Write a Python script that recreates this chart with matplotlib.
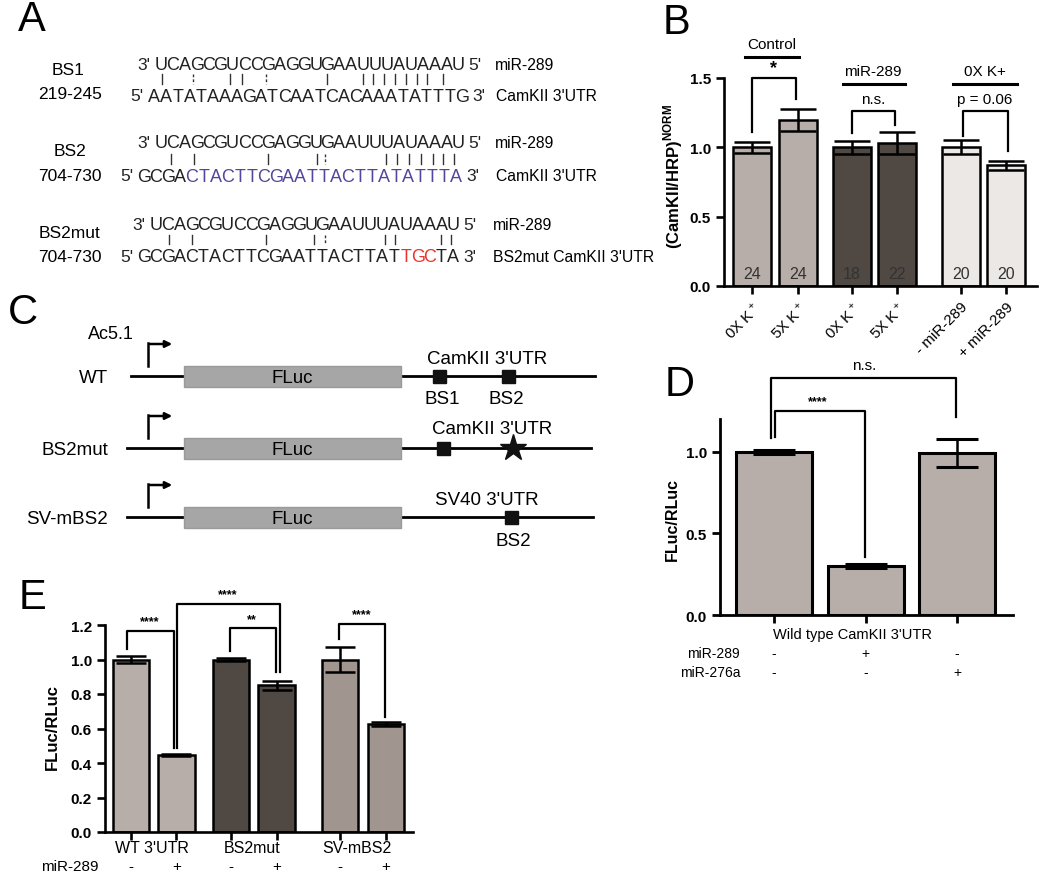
import matplotlib
matplotlib.use("Agg")
import matplotlib.pyplot as plt
from matplotlib.patches import Rectangle
import numpy as np

plt.rcParams['font.family'] = ['Liberation Sans', 'DejaVu Sans']
plt.rcParams['mathtext.fontset'] = 'custom'
plt.rcParams['mathtext.rm'] = 'Liberation Sans'
plt.rcParams['mathtext.bf'] = 'Liberation Sans:bold'

# ---- data ----
mir289 = "UCAGCGUCCGAGGUGAAUUUAUAAAU"
bs1_utr = "AATATAAAGATCAATCACAAATATTTG"
bs2_utr = "GCGACTACTTCGAATTACTTATATTTA"
bs2mut_utr = "GCGACTACTTCGAATTACTTATTGCTA"

b_labels = ["0X K$^+$", "5X K$^+$", "0X K$^+$", "5X K$^+$", "- miR-289", "+ miR-289"]
b_means = [1.0, 1.2, 1.0, 1.03, 1.0, 0.87]
b_sem = [0.04, 0.08, 0.045, 0.08, 0.05, 0.035]
b_n = [24, 24, 18, 22, 20, 20]
b_groups = ["Control", "miR-289", "0X K+"]

d_means = [1.0, 0.30, 0.99]
d_sem = [0.012, 0.01, 0.085]
d_mir289 = ["-", "+", "-"]
d_mir276a = ["-", "-", "+"]

e_groups = ["WT 3'UTR", "BS2mut", "SV-mBS2"]
e_means = [1.0, 0.445, 1.0, 0.85, 1.0, 0.625]
e_sem = [0.02, 0.006, 0.006, 0.025, 0.075, 0.012]
e_mir = ["-", "+", "-", "+", "-", "+"]

ctrl_c = "#b7aeaa"
dark_c = "#4f4843"
light_c = "#ece8e5"
sv_c = "#a0968f"

W, H = 1050, 887
fig = plt.figure(figsize=(10.5, 8.87), dpi=100)


def px_axes(l, t, r, b):
    return fig.add_axes([l / W, 1 - b / H, (r - l) / W, (b - t) / H])


def bracket(ax, x1, x2, top, y1, y2, label, ly, lx=None, fs=11, weight='normal'):
    ax.plot([x1, x1, x2, x2], [y1, top, top, y2], color='k', lw=1.6, clip_on=False)
    if lx is None:
        lx = (x1 + x2) / 2
    ax.text(lx, ly, label, ha='center', va='center', fontsize=fs, fontweight=weight, clip_on=False)


def style_axes(ax, lw):
    for s in ['top', 'right']:
        ax.spines[s].set_visible(False)
    for s in ['left', 'bottom']:
        ax.spines[s].set_linewidth(lw)
    ax.tick_params(width=lw, length=6)
    ax.patch.set_alpha(0)


# ---- canvas for A and C ----
cv = fig.add_axes([0, 0, 1, 1])
cv.set_xlim(0, W)
cv.set_ylim(H, 0)
cv.axis('off')

for let, x, y in [("A", 32, 20), ("B", 677, 23), ("C", 23, 313), ("D", 680, 385), ("E", 33, 598)]:
    cv.text(x, y, let, fontsize=30, ha='center', va='center')


def seq_row(x0, y, left, seq, right, pitch=11.9, colors=None):
    cv.text(x0 - 5, y, left, ha='right', va='center_baseline', fontsize=12.5, color='#222')
    for i, ch in enumerate(seq):
        c = colors[i] if colors else '#222'
        cv.text(x0 + pitch * (i + 0.5), y, ch, ha='center', va='center_baseline', fontsize=13, color=c)
    cv.text(x0 + pitch * len(seq) + 4, y, right, ha='left', va='center_baseline', fontsize=12.5, color='#222')


def marks(xs, dashed, y1, y2):
    for x in xs:
        ls = (0, (2, 1.5)) if x in dashed else '-'
        cv.plot([x, x], [y1, y2], color='#333', lw=1, ls=ls)


# BS1
cv.text(68, 69, "BS1", ha='center', va='center_baseline', fontsize=12.5)
cv.text(70, 93, "219-245", ha='center', va='center_baseline', fontsize=12.5)
seq_row(155, 64, "3'", mir289, "5'")
seq_row(148, 95, "5'", bs1_utr, "3'", pitch=11.85)
marks([162, 193, 230, 242, 266, 327, 363, 373, 384, 395, 406, 417, 427, 443], [193, 266], 75, 85)
cv.text(495, 64, "miR-289", ha='left', va='center_baseline', fontsize=11.3)
cv.text(496, 95, "CamKII 3'UTR", ha='left', va='center_baseline', fontsize=11.3)

# BS2
purple = "#55459c"
cv.text(70, 150, "BS2", ha='center', va='center_baseline', fontsize=12.5)
cv.text(70, 175, "704-730", ha='center', va='center_baseline', fontsize=12.5)
seq_row(155, 142, "3'", mir289, "5'")
seq_row(138, 175, "5'", bs2_utr, "3'", pitch=12.0,
        colors=['#222'] * 4 + [purple] * (len(bs2_utr) - 4))
marks([171, 194, 268, 317, 325, 386, 397, 409, 421, 433, 443, 454], [325], 155, 165)
cv.text(495, 142, "miR-289", ha='left', va='center_baseline', fontsize=11.3)
cv.text(496, 175, "CamKII 3'UTR", ha='left', va='center_baseline', fontsize=11.3)

# BS2mut
cv.text(69, 232, "BS2mut", ha='center', va='center_baseline', fontsize=12.5)
cv.text(70, 256, "704-730", ha='center', va='center_baseline', fontsize=12.5)
seq_row(150, 224, "3'", mir289, "5'")
seq_row(138, 256, "5'", bs2mut_utr, "3'", pitch=11.9,
        colors=['#222'] * 22 + ['#e8352d'] * 3 + ['#222'] * 2)
marks([169, 192, 266, 314, 325, 385, 395, 441, 451], [325], 236, 245)
cv.text(493, 224, "miR-289", ha='left', va='center_baseline', fontsize=11.3)
cv.text(493, 256, "BS2mut CamKII 3'UTR", ha='left', va='center_baseline', fontsize=11.3)

# ---- panel C ----
cv.text(88, 333, "Ac5.1", ha='left', va='center_baseline', fontsize=13)
rows = [("WT", 377, 131, 595), ("BS2mut", 449, 127, 591), ("SV-mBS2", 518, 127, 593)]
for name, y, x1, x2 in rows:
    cv.plot([x1, x2], [y, y], color='k', lw=2, zorder=1)
    cv.add_patch(Rectangle((184, y - 10.5), 217, 21, facecolor='#a6a6a6', edgecolor='#9a9a9a', lw=1, zorder=2))
    cv.text(292, y, "FLuc", ha='center', va='center_baseline', fontsize=13.5, zorder=3)
    cv.text(108, y, name, ha='right', va='center_baseline', fontsize=13.5)
    ax_x = 148
    cv.plot([ax_x, ax_x], [y - 10, y - 33], color='k', lw=1.8)
    cv.annotate('', xy=(175, y - 32), xytext=(ax_x - 0.9, y - 32),
                arrowprops=dict(arrowstyle='-|>', lw=1.8, color='k', mutation_scale=10))


def square(x, y):
    cv.add_patch(Rectangle((x - 6.5, y - 6.5), 13, 13, facecolor='#111', edgecolor='#111', zorder=3))


square(439, 377)
square(508, 377)
cv.text(487, 358, "CamKII 3'UTR", ha='center', va='center_baseline', fontsize=13.5)
cv.text(442, 398, "BS1", ha='center', va='center_baseline', fontsize=13.5)
cv.text(506, 398, "BS2", ha='center', va='center_baseline', fontsize=13.5)

square(443, 449)
cv.plot(513, 449, marker='*', ms=20, color='#111', zorder=3)
cv.text(492, 428, "CamKII 3'UTR", ha='center', va='center_baseline', fontsize=13.5)

square(511, 518)
cv.text(487, 499, "SV40 3'UTR", ha='center', va='center_baseline', fontsize=13.5)
cv.text(513, 540, "BS2", ha='center', va='center_baseline', fontsize=13.5)

# ---- panel B ----
axb = px_axes(724, 79, 1037, 287)
xb = [0, 1, 2.17, 3.15, 4.54, 5.52]
b_colors = [ctrl_c, ctrl_c, dark_c, dark_c, light_c, light_c]
axb.bar(xb, b_means, width=0.83, color=b_colors, edgecolor='k', linewidth=1.8,
        yerr=b_sem, capsize=13, error_kw=dict(elinewidth=1.8, capthick=1.8, ecolor='k'))
axb.set_xlim(-0.61, 6.2)
axb.set_ylim(0, 1.5)
style_axes(axb, 1.9)
axb.set_yticks([0, 0.5, 1.0, 1.5])
axb.set_yticklabels(["0.0", "0.5", "1.0", "1.5"], fontsize=11, fontweight='bold')
axb.set_xticks(xb)
axb.set_xticklabels(b_labels, rotation=45, ha='right', rotation_mode='anchor', fontsize=11)
axb.set_ylabel(r"(CamKII/HRP)$^{\mathbf{NORM}}$", fontsize=12, fontweight='bold')
axb.yaxis.set_label_coords(-0.125, 0.53)
for x, n, c in zip(xb, b_n, b_colors):
    axb.text(x, 0.087, str(n), ha='center', va='center', fontsize=11.5, color='#333')

bracket(axb, xb[0], xb[1] - 0.05, 1.5, 1.11, 1.35, "*", 1.575, fs=13, weight='bold')
bracket(axb, xb[2], xb[3] - 0.05, 1.26, 1.10, 1.16, "n.s.", 1.35)
bracket(axb, xb[4] + 0.04, xb[5] + 0.04, 1.26, 1.08, 0.97, "p = 0.06", 1.35)
for name, xc, xl, xr, ty, ly in [(b_groups[0], 0.43, -0.15, 1.02, 1.745, 1.65),
                                 (b_groups[1], 2.63, 1.98, 3.33, 1.55, 1.46),
                                 (b_groups[2], 5.07, 4.37, 5.76, 1.55, 1.46)]:
    axb.text(xc, ty, name, ha='center', va='center', fontsize=11, clip_on=False)
    axb.plot([xl, xr], [ly, ly], color='k', lw=2.2, clip_on=False)

# ---- panel D ----
axd = px_axes(720, 420, 1013, 616)
xd = np.arange(len(d_means))
axd.bar(xd, d_means, width=0.83, color=ctrl_c, edgecolor='k', linewidth=2.2,
        yerr=d_sem, capsize=15, error_kw=dict(elinewidth=1.8, capthick=2.2, ecolor='k'))
axd.set_xlim(-0.59, 2.61)
axd.set_ylim(0, 1.2)
style_axes(axd, 2.0)
axd.set_yticks([0, 0.5, 1.0])
axd.set_yticklabels(["0.0", "0.5", "1.0"], fontsize=11, fontweight='bold')
axd.set_xticks(xd)
axd.set_xticklabels([])
axd.set_ylabel("FLuc/RLuc", fontsize=11.5, fontweight='bold')
axd.yaxis.set_label_coords(-0.137, 0.49)
axd.text(0.86, -0.117, "Wild type CamKII 3'UTR", ha='center', va='center', fontsize=10.5, clip_on=False)
axd.text(-0.37, -0.233, "miR-289", ha='right', va='center', fontsize=10, clip_on=False)
axd.text(-0.37, -0.35, "miR-276a", ha='right', va='center', fontsize=10, clip_on=False)
for x, s1, s2 in zip(xd, d_mir289, d_mir276a):
    axd.text(x, -0.233, s1, ha='center', va='center', fontsize=10, clip_on=False)
    axd.text(x, -0.35, s2, ha='center', va='center', fontsize=10, clip_on=False)
bracket(axd, 0.01, 0.99, 1.25, 1.09, 0.356, "****", 1.31, lx=0.48, fs=9, weight='bold')
bracket(axd, -0.03, 1.99, 1.45, 1.086, 1.21, "n.s.", 1.53, fs=11)

# ---- panel E ----
axe = px_axes(105, 626, 413, 833)
xe = [0, 1, 2.2, 3.2, 4.6, 5.6]
e_colors = [ctrl_c, ctrl_c, dark_c, dark_c, sv_c, sv_c]
axe.bar(xe, e_means, width=0.8, color=e_colors, edgecolor='k', linewidth=1.8,
        yerr=e_sem, capsize=11, error_kw=dict(elinewidth=1.8, capthick=1.8, ecolor='k'))
axe.set_xlim(-0.57, 6.2)
axe.set_ylim(0, 1.2)
style_axes(axe, 1.9)
axe.set_yticks(np.arange(0, 1.21, 0.2))
axe.set_yticklabels([f"{v:.1f}" for v in np.arange(0, 1.21, 0.2)], fontsize=11, fontweight='bold')
axe.set_xticks(xe)
axe.set_xticklabels([])
axe.set_ylabel("FLuc/RLuc", fontsize=12, fontweight='bold')
axe.yaxis.set_label_coords(-0.146, 0.51)
for g, xc in zip(e_groups, [0.46, 2.66, 4.97]):
    axe.text(xc, -0.087, g, ha='center', va='center', fontsize=11.5, clip_on=False)
axe.text(-1.34, -0.2, "miR-289", ha='center', va='center', fontsize=11, clip_on=False)
for x, s in zip(xe, e_mir):
    axe.text(x, -0.2, s, ha='center', va='center', fontsize=11, clip_on=False)
bracket(axe, -0.09, 0.95, 1.165, 1.06, 0.487, "****", 1.22, lx=0.42, fs=9, weight='bold')
bracket(axe, 1.01, 3.27, 1.32, 0.487, 0.93, "****", 1.38, lx=2.13, fs=9, weight='bold')
bracket(axe, 2.18, 3.19, 1.18, 1.05, 0.93, "**", 1.235, lx=2.66, fs=9, weight='bold')
bracket(axe, 4.57, 5.58, 1.205, 1.12, 0.667, "****", 1.26, lx=5.08, fs=9, weight='bold')

fig.savefig("out.png", dpi=100, facecolor='white')
